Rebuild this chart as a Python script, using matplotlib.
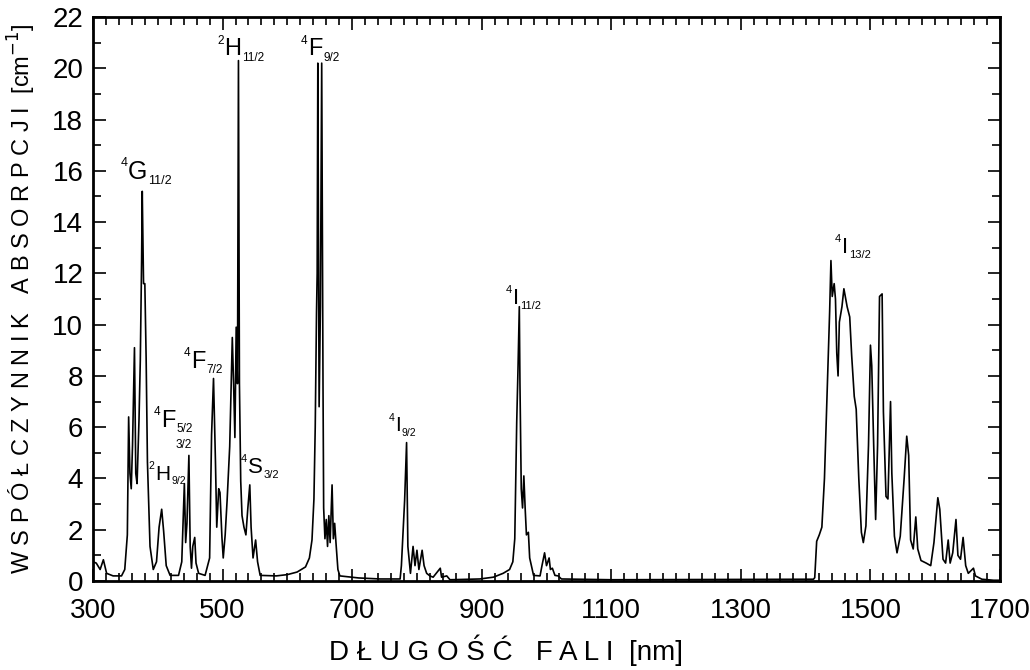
import matplotlib
matplotlib.use("Agg")
import matplotlib.pyplot as plt
from matplotlib.ticker import MultipleLocator

# widmo absorpcji
dlugosc = [300, 305, 311, 316, 321, 331, 344, 349, 353, 355, 357, 359, 361, 364,
           366, 368, 371, 373, 375, 376, 378, 380, 382, 384, 388, 393, 398, 402,
           406, 409, 413, 419, 432, 437, 441, 443, 445, 448, 450, 452, 454, 457,
           459, 463, 473, 480, 483, 486, 489, 491, 494, 496, 499, 501, 504, 507,
           511, 515, 517, 519, 521, 523, 524.5, 526, 528, 530, 533, 536, 539,
           542, 544, 547, 551, 554, 558, 583, 600, 615, 628, 634, 638, 641, 643,
           645, 646, 647, 649, 651, 653, 655, 656, 658, 660, 662, 664, 666, 669,
           671, 673, 675, 678, 681, 710, 743, 774, 776, 781, 784, 786, 790, 794,
           797, 800, 803, 808, 811, 815, 820, 825, 836, 838, 846, 851, 897, 918,
           933, 943, 948, 951, 954, 956, 958, 959, 961, 963, 965, 967, 969, 972,
           974, 980, 990, 993, 997, 1000, 1004, 1006, 1009, 1013, 1018, 1023,
           1100, 1250, 1360, 1412, 1414, 1417, 1421, 1425, 1429, 1433, 1437,
           1439, 1441, 1444, 1446, 1448, 1450, 1452, 1456, 1459, 1464, 1468,
           1471, 1475, 1478, 1482, 1486, 1489, 1493, 1497, 1500, 1502, 1505,
           1508, 1511, 1514, 1518, 1520, 1524, 1527, 1531, 1533, 1537, 1541,
           1546, 1552, 1556, 1559, 1562, 1566, 1570, 1573, 1578, 1586, 1593,
           1598, 1604, 1607, 1612, 1616, 1620, 1623, 1627, 1632, 1635, 1639,
           1643, 1647, 1651, 1659, 1662, 1672, 1690, 1700]
absorpcja = [0.75, 0.7, 0.45, 0.83, 0.3, 0.2, 0.2, 0.45, 1.8, 6.4, 4.2, 3.6, 5.3,
             9.1, 4.2, 3.8, 6.3, 8.6, 12.5, 15.2, 11.6, 11.6, 8.7, 4.65, 1.35,
             0.45, 0.75, 2.1, 2.8, 1.95, 0.6, 0.22, 0.22, 0.75, 3.8, 1.5, 2.25,
             4.9, 1.35, 0.5, 1.35, 1.7, 0.7, 0.3, 0.22, 0.9, 5.7, 7.9, 4.65, 2.1,
             3.6, 3.45, 1.7, 0.9, 1.8, 3.15, 5.25, 9.5, 7.7, 5.6, 9.9, 7.7, 20.3,
             7.7, 3.9, 2.55, 2.1, 1.8, 2.85, 3.75, 2.1, 0.9, 1.6, 0.75, 0.22, 0.2,
             0.25, 0.35, 0.55, 0.9, 1.6, 3.2, 6.0, 10.5, 12.0, 20.2, 6.8, 10.7,
             20.2, 7.7, 2.85, 1.65, 2.4, 1.35, 2.55, 1.5, 3.75, 1.65, 2.25, 1.5,
             0.45, 0.2, 0.12, 0.08, 0.08, 0.6, 3.15, 5.4, 1.35, 0.3, 1.35, 0.6,
             1.2, 0.45, 1.2, 0.6, 0.3, 0.2, 0.15, 0.5, 0.15, 0.2, 0.05, 0.08,
             0.15, 0.3, 0.45, 0.75, 1.65, 6.2, 8.3, 10.7, 7.7, 3.6, 2.85, 4.1,
             2.85, 1.8, 1.9, 0.9, 0.22, 0.2, 0.6, 1.1, 0.6, 0.9, 0.45, 0.5, 0.22,
             0.2, 0.08, 0.05, 0.06, 0.07, 0.07, 0.13, 1.55, 1.8, 2.1, 4.0, 7.2,
             10.5, 12.5, 11.1, 11.6, 11.0, 8.9, 8.0, 10.1, 10.7, 11.4, 10.7, 10.3,
             8.8, 7.2, 6.7, 4.0, 1.9, 1.5, 2.15, 5.3, 9.2, 8.4, 5.3, 2.4, 5.3,
             11.1, 11.2, 6.6, 3.3, 3.2, 7.0, 4.2, 1.75, 1.1, 1.75, 4.0, 5.65, 4.9,
             1.6, 1.25, 2.5, 1.25, 0.8, 0.7, 0.6, 1.5, 3.25, 2.8, 0.85, 0.7, 1.6,
             0.7, 1.1, 2.4, 1.0, 0.85, 1.7, 0.6, 0.3, 0.5, 0.2, 0.07, 0.03, 0.03]

# oznaczenia przejść: indeks górny, litera, indeks dolny
etykiety_gora = ["4", "2", "4", "4", "4", "2", "4", "4", "4", "4"]
etykiety_litera = ["G", "H", "F", "F", "F", "H", "S", "I", "I", "I"]
etykiety_dol = ["11/2", "11/2", "9/2", "7/2", "5/2", "9/2", "3/2", "9/2", "11/2", "13/2"]
etykiety_x = [354, 503, 632, 452, 405, 396, 539, 766, 948, 1456]
etykiety_y = [15.7, 20.5, 20.5, 8.3, 6.0, 3.95, 4.2, 5.85, 10.8, 12.8]
etykiety_rozmiar = [18, 17, 17, 17, 17, 15, 16, 15, 16, 16]

plt.rcParams["font.family"] = ["Liberation Sans", "DejaVu Sans"]

fig = plt.figure(figsize=(10.3, 6.7), dpi=100)
ax = fig.add_axes([0.0903, 0.1328, 0.8806, 0.8418])
renderer = fig.canvas.get_renderer()

ax.plot(dlugosc, absorpcja, color="black", linewidth=1.2)

ax.set_xlim(300, 1700)
ax.set_ylim(0, 22)


def term(x, y, gora, litera, dol, r):
    t = ax.text(x, y, litera, fontsize=r, ha="left", va="baseline")
    w = t.get_window_extent(renderer=renderer).width * 72 / fig.dpi
    ax.annotate(gora, (x, y), xytext=(-0.5, r * 0.5), textcoords="offset points",
                fontsize=r * 0.5, ha="right", va="baseline")
    ax.annotate(dol, (x, y), xytext=(w + 0.5, -r * 0.22), textcoords="offset points",
                fontsize=r * 0.5, ha="left", va="baseline")


for g, l, d, x, y, r in zip(etykiety_gora, etykiety_litera, etykiety_dol,
                            etykiety_x, etykiety_y, etykiety_rozmiar):
    term(x, y, g, l, d, r)
ax.text(428, 5.2, "3/2", fontsize=8.5, ha="left", va="baseline")

ax.set_xticks(range(300, 1701, 200))
ax.xaxis.set_minor_locator(MultipleLocator(20))
ax.yaxis.set_major_locator(MultipleLocator(2))
ax.yaxis.set_minor_locator(MultipleLocator(1))
ax.tick_params(which="both", direction="in", top=True, right=True, width=1.2)
ax.tick_params(which="major", length=9, labelsize=20)
ax.tick_params(which="minor", length=6)
ax.tick_params(axis="x", pad=12)
ax.tick_params(axis="y", pad=7)
for s in ax.spines.values():
    s.set_linewidth(2)

ax.set_xlabel(" ".join("DŁUGOŚĆ FALI") + "  [nm]", fontsize=20, x=0.455, labelpad=8)
ax.set_ylabel(" ".join("WSPÓŁCZYNNIK ABSORPCJI") + "  [cm$^{-1}$]", fontsize=17,
              labelpad=10)

plt.savefig("out.png", dpi=100)
